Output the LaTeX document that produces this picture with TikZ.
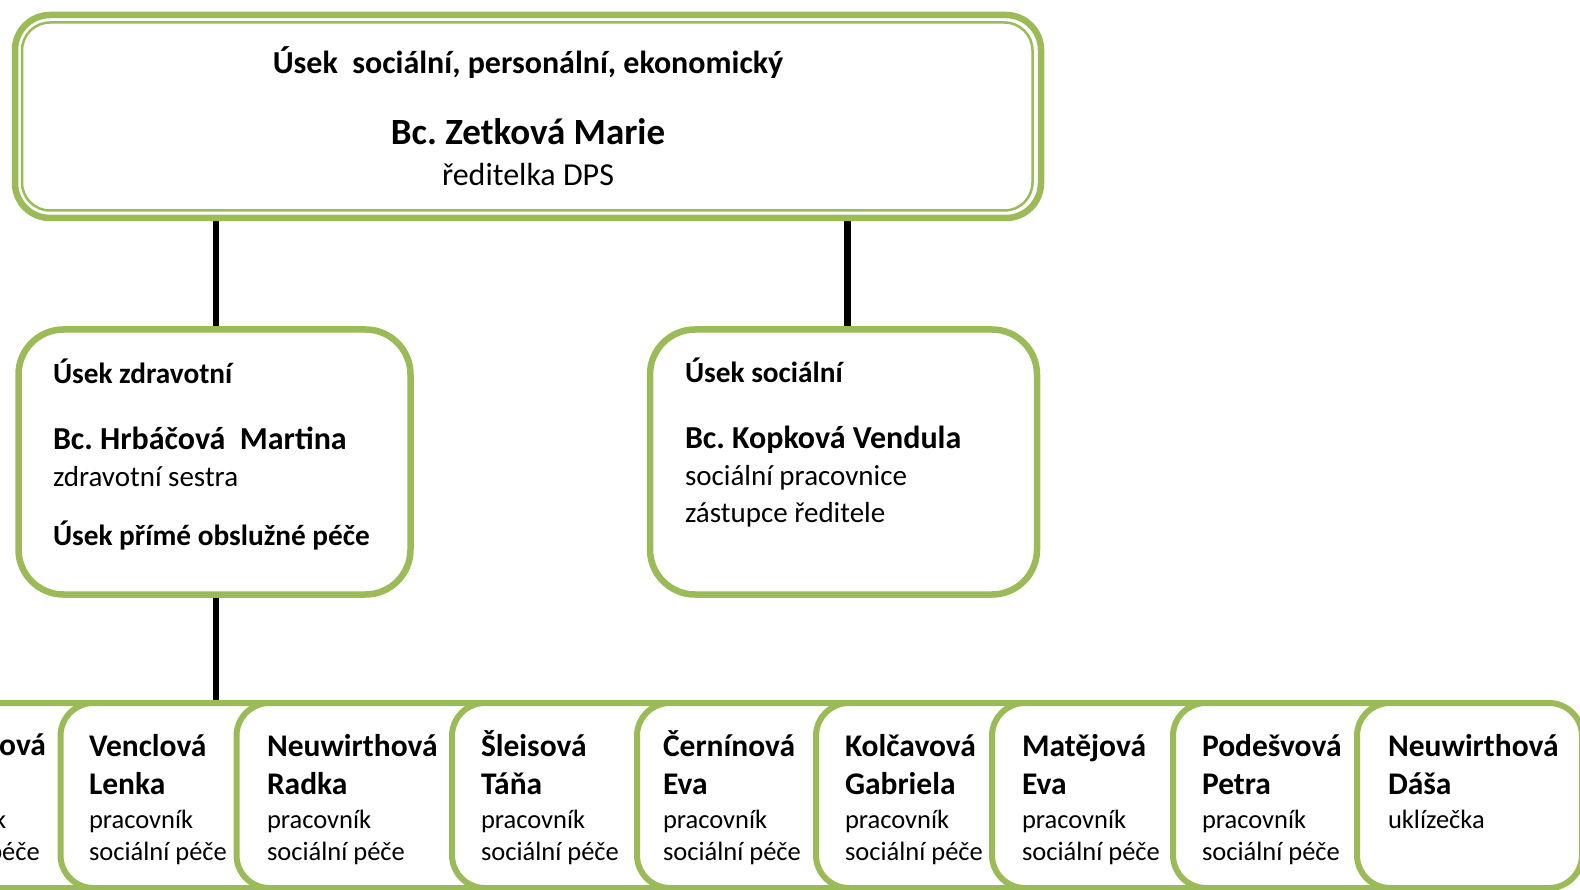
\documentclass[tikz,border=0pt]{standalone}
\usepackage{fontspec}
\setmainfont{Carlito}
\usepackage{xcolor}
\definecolor{chartgreen}{HTML}{9BBB59}
\definecolor{chartink}{HTML}{000000}
\usetikzlibrary{backgrounds}
\newcommand{\boldline}[1]{{\fontsize{31.5}{38}\selectfont\bfseries #1}}
\newcommand{\unitline}[1]{{\fontsize{29.3}{35}\selectfont\bfseries #1}}
\newcommand{\leadline}[1]{{\fontsize{32}{38}\selectfont\bfseries #1}}

\begin{document}
\frenchspacing
\begin{tikzpicture}[
  x=1pt,
  y=-1pt,
  every node/.style={inner sep=0pt, outer sep=0pt, text=chartink},
  headbox/.style={draw=chartgreen, fill=white, line width=6.5pt, rounded corners=35pt, anchor=north west},
  unitbox/.style={draw=chartgreen, fill=white, line width=6.5pt, rounded corners=45pt, anchor=north west, minimum height=265pt},
  staffbox/.style={draw=chartgreen, fill=white, line width=6pt, rounded corners=33pt, anchor=north west, minimum height=185pt},
  unittext/.style={anchor=base west, align=left, font=\fontsize{29}{35}\selectfont},
  stafftext/.style={anchor=base west, align=left, font=\fontsize{26.5}{32}\selectfont},
  link/.style={draw=chartink, line width=6.5pt}
]
  \useasboundingbox (0,0) rectangle (1580,890);
  \clip (0,0) rectangle (1580,890);

  \node[headbox, minimum width=1026pt, minimum height=203pt] (head) at (15,15) {};
  \draw[chartgreen, line width=2.5pt, rounded corners=28pt] ([shift={(7,7.5)}]head.north west) rectangle ([shift={(-8.5,-7.5)}]head.south east);

  \node[font=\fontsize{32}{38}\selectfont\bfseries, anchor=base] (headunit) at (528,74) {Úsek\ \ sociální, personální, ekonomický};
  \node[font=\fontsize{37}{44}\selectfont\bfseries, anchor=base] (headname) at (528,145) {Bc. Zetková Marie};
  \node[font=\fontsize{32}{38}\selectfont, anchor=base] (headrole) at (528,186) {ředitelka DPS};

  \node[unitbox, minimum width=392pt] (health) at (18.5,329.5) {};
  \node[unitbox, minimum width=387pt] (social) at (650,329.5) {};

  \node[unittext] (healthtext) at (53,545) {\unitline{Úsek zdravotní}\\[31pt]\leadline{Bc. Hrbáčová\ \ Martina}\\[2pt]zdravotní sestra\\[24pt]\unitline{Úsek přímé obslužné péče}};
  \node[unittext] (socialtext) at (685,522) {\unitline{Úsek sociální}\\[31pt]\leadline{Bc. Kopková Vendula}\\[2pt]sociální pracovnice\\[2pt]zástupce ředitele};

  \node[staffbox, minimum width=257pt] (staff0) at (-127,703) {};
  \node[staffbox, minimum width=246pt] (staff1) at (60.5,703) {};
  \node[staffbox, minimum width=285pt] (staff2) at (236.5,703) {};
  \node[staffbox, minimum width=255pt] (staff3) at (452,703) {};
  \node[staffbox, minimum width=249pt] (staff4) at (637,703) {};
  \node[staffbox, minimum width=246pt] (staff5) at (816,703) {};
  \node[staffbox, minimum width=251pt] (staff6) at (992,703) {};
  \node[staffbox, minimum width=254pt] (staff7) at (1173,703) {};
  \node[staffbox, minimum width=225pt] (staff8) at (1357,703) {};

  \node[stafftext, anchor=base east] (name0) at (46,755) {\boldline{ová}};
  \node[stafftext] (role0) at (-98,860) {pracovník\\sociální péče};
  \node[stafftext] (name1) at (89,860) {\boldline{Venclová}\\[6pt]\boldline{Lenka}\\[2pt]pracovník\\sociální péče};
  \node[stafftext] (name2) at (267,860) {\boldline{Neuwirthová}\\[6pt]\boldline{Radka}\\[2pt]pracovník\\sociální péče};
  \node[stafftext] (name3) at (481,860) {\boldline{Šleisová}\\[6pt]\boldline{Táňa}\\[2pt]pracovník\\sociální péče};
  \node[stafftext] (name4) at (663,860) {\boldline{Černínová}\\[6pt]\boldline{Eva}\\[2pt]pracovník\\sociální péče};
  \node[stafftext] (name5) at (845,860) {\boldline{Kolčavová}\\[6pt]\boldline{Gabriela}\\[2pt]pracovník\\sociální péče};
  \node[stafftext] (name6) at (1022,860) {\boldline{Matějová}\\[6pt]\boldline{Eva}\\[2pt]pracovník\\sociální péče};
  \node[stafftext] (name7) at (1202,860) {\boldline{Podešvová}\\[6pt]\boldline{Petra}\\[2pt]pracovník\\sociální péče};
  \node[stafftext] (name8) at (1388,828) {\boldline{Neuwirthová}\\[6pt]\boldline{Dáša}\\[2pt]uklízečka};

  \begin{scope}[on background layer]
    \draw[link] ([xshift=1.5pt]health.north) -- ([xshift=1.5pt]health.north |- head.south);
    \draw[link] ([xshift=4pt]social.north) -- ([xshift=4pt]social.north |- head.south);
    \draw[link] ([xshift=1.5pt]health.south) -- ([xshift=1.5pt]health.south |- staff1.north);
  \end{scope}
\end{tikzpicture}
\end{document}
